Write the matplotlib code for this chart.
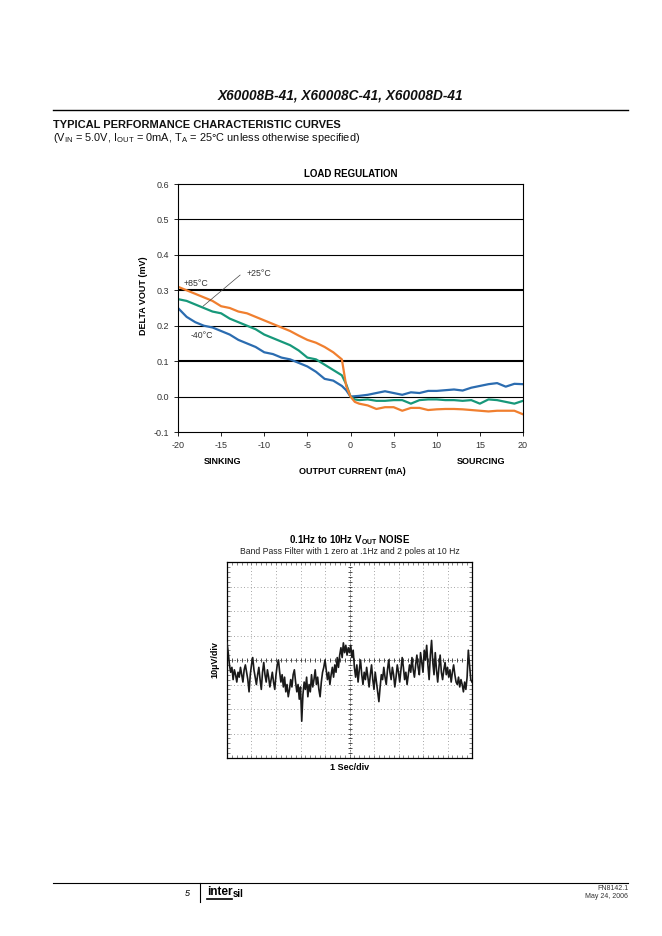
import numpy as np
import matplotlib
matplotlib.use("Agg")
import matplotlib.pyplot as plt
from matplotlib.lines import Line2D

plt.rcParams['font.family'] = ['Liberation Sans', 'DejaVu Sans']
plt.rcParams['mathtext.fontset'] = 'custom'
plt.rcParams['mathtext.rm'] = 'Liberation Sans'
plt.rcParams['mathtext.bf'] = 'Liberation Sans:bold'
plt.rcParams['axes.unicode_minus'] = False

W, H = 662, 936

# load regulation data (mA, mV)
current = [-20, -19, -18, -17, -16, -15, -14, -13, -12, -11, -10, -9, -8, -7, -6, -5, -4, -3, -2, -1,
           -0.5, 0, 0.5, 1, 2, 3, 4, 5, 6, 7, 8, 9, 10, 11, 12, 13, 14, 15, 16, 17, 18, 19, 20]
dv_85c = [0.31, 0.30, 0.29, 0.28, 0.27, 0.255, 0.25, 0.24, 0.235, 0.225, 0.215, 0.205, 0.195, 0.185,
          0.172, 0.16, 0.152, 0.14, 0.125, 0.105, 0.03, 0.0, -0.015, -0.02, -0.025, -0.035, -0.03,
          -0.03, -0.04, -0.032, -0.032, -0.038, -0.036, -0.035, -0.035, -0.036, -0.038, -0.04,
          -0.042, -0.04, -0.04, -0.04, -0.05]
dv_25c = [0.275, 0.27, 0.26, 0.25, 0.24, 0.235, 0.22, 0.21, 0.2, 0.19, 0.175, 0.165, 0.155, 0.145,
          0.13, 0.11, 0.105, 0.09, 0.075, 0.06, 0.035, 0.0, -0.008, -0.01, -0.008, -0.012, -0.012,
          -0.01, -0.01, -0.02, -0.01, -0.008, -0.008, -0.01, -0.01, -0.012, -0.01, -0.02, -0.008,
          -0.01, -0.015, -0.02, -0.012]
dv_m40c = [0.25, 0.225, 0.21, 0.2, 0.195, 0.185, 0.175, 0.16, 0.15, 0.14, 0.125, 0.12, 0.11, 0.105,
           0.095, 0.085, 0.07, 0.05, 0.045, 0.03, 0.018, 0.0, 0.001, 0.002, 0.005, 0.01, 0.015, 0.01,
           0.005, 0.012, 0.01, 0.016, 0.016, 0.018, 0.02, 0.017, 0.025, 0.03, 0.035, 0.038, 0.028,
           0.036, 0.035]

# noise trace, in divisions, 0.05 div per sample
noise = [0.7, 0.3, -0.2, -0.5, -0.3, -0.8, -0.4, -0.6, -0.9, -0.5, -0.7, -0.3, -0.6, -0.9, -0.4, -0.2, -0.5, -0.8, -1.3, -0.6,
         -0.2, 0.1, -0.4, -0.7, -1.0, -0.6, -0.3, -0.8, -1.2, -0.5, -0.1, -0.6, -0.9, -0.4, -0.7, -1.1, -0.8, -0.5, -0.9, -1.2,
         -0.6, -0.2, 0.0, -0.5, -0.9, -0.6, -1.1, -0.7, -1.3, -1.0, -1.5, -1.2, -0.8, -1.1, -0.6, -0.4, -0.9, -1.3, -1.0, -1.6,
         -1.1, -2.5, -1.4, -0.9, -1.2, -0.7, -1.5, -1.0, -1.3, -0.6, -1.1, -0.8, -0.4, -1.0, -0.7, -1.2, -1.5, -0.9, -0.5, -0.3,
         0.0, -0.4, -0.8, -0.5, -1.0, -0.6, -0.3, -0.7, -0.2, -0.5, 0.1, -0.3, 0.2, 0.5, 0.1, 0.7, 0.3, 0.6, 0.2, 0.5,
         0.3, 0.6, 0.1, 0.4, -0.3, -0.7, -0.2, -0.9, -0.4, 0.0, -0.6, -1.0, -0.5, -0.8, -0.3, -0.7, -1.1, -0.6, -0.2, -0.8,
         -1.2, -0.5, -0.9, -1.3, -1.7, -1.1, -0.6, -0.8, -0.3, -0.7, -1.0, -0.4, 0.0, -0.5, -0.8, -0.3, -0.6, -1.1, -0.7, -0.2,
         -0.5, -0.9, -0.4, 0.1, -0.3, -0.8, -0.5, -1.0, -0.6, -0.2, -0.5, 0.1, -0.4, -0.7, -0.2, 0.2, -0.3, -0.6, 0.3, -0.1,
         -0.5, 0.4, 0.0, 0.6, -0.2, -0.8, 0.2, 0.8, -0.1, -0.6, 0.3, -0.4, -0.9, -0.3, 0.2, -0.5, -0.8, -0.4, -0.1, -0.6,
         -0.3, -0.7, -0.4, -0.9, -0.5, -0.2, -0.6, -0.9, -1.0, -0.7, -1.1, -0.8, -1.0, -1.3, -0.9, -1.2, -0.7, 0.4, -0.2, -0.8,
         -0.9]


def px(x, y):
    return x / W, 1 - y / H


def box(x0, y0, x1, y1):
    return [x0 / W, 1 - y1 / H, (x1 - x0) / W, (y1 - y0) / H]


fig = plt.figure(figsize=(W / 100, H / 100), dpi=100)
fig.patch.set_facecolor('white')

# page header
fig.text(*px(340, 95), "X60008B-41, X60008C-41, X60008D-41", ha='center', va='center',
         fontsize=9.8, fontweight='bold', fontstyle='italic', color='#111')
fig.add_artist(Line2D([53 / W, 628 / W], [1 - 110 / H] * 2, color='black', lw=1.0))
fig.text(*px(53, 125), "TYPICAL PERFORMANCE CHARACTERISTIC CURVES", ha='left', va='center',
         fontsize=8.0, fontweight='bold', color='#111')
fig.text(*px(53, 138), r"(V$_{\mathrm{IN}}$ = 5.0V, I$_{\mathrm{OUT}}$ = 0mA, T$_{\mathrm{A}}$ = 25°C unless otherwise specified)",
         ha='left', va='center', fontsize=7.9, color='#111')

# --- load regulation ---
ax = fig.add_axes(box(178, 184, 523, 432))
ax.plot(current, dv_m40c, color='#2b6cb0', lw=1.6)
ax.plot(current, dv_25c, color='#17987a', lw=1.6)
ax.plot(current, dv_85c, color='#f07f2f', lw=1.6)
for g in [0.0, 0.1, 0.2, 0.3, 0.4, 0.5]:
    ax.axhline(g, color='black', lw=1.5 if g in (0.1, 0.3) else 0.8, zorder=0)
ax.set_xlim(-20, 20)
ax.set_ylim(-0.1, 0.6)
ax.set_xticks(range(-20, 21, 5))
ax.set_yticks(np.arange(-0.1, 0.61, 0.1))
ax.set_yticklabels([f"{v:.1f}" for v in np.arange(-0.1, 0.61, 0.1)])
ax.tick_params(labelsize=6.5, labelcolor='#333', length=3, width=0.6, direction='out')
for s in ax.spines.values():
    s.set_linewidth(0.8)
ax.set_title("LOAD REGULATION", fontsize=7, fontweight='bold', pad=5)
ax.text(-19.4, 0.32, "+85°C", fontsize=6.3, color='#333', va='center')
ax.text(-12.1, 0.347, "+25°C", fontsize=6.3, color='#333', va='center')
ax.text(-18.5, 0.173, "-40°C", fontsize=6.3, color='#333', va='center')
ax.plot([-12.8, -17.1], [0.343, 0.255], color='#444', lw=0.5)

fig.text(*px(143, 296), "DELTA VOUT (mV)", rotation=90, ha='center', va='center',
         fontsize=6.5, fontweight='bold')
fig.text(*px(223, 461), "SINKING", ha='center', va='center', fontsize=6.5, fontweight='bold')
fig.text(*px(481, 461), "SOURCING", ha='center', va='center', fontsize=6.5, fontweight='bold')
fig.text(*px(352, 472), "OUTPUT CURRENT (mA)", ha='center', va='center', fontsize=6.5, fontweight='bold')

# --- noise ---
fig.text(*px(350, 540), r"0.1Hz to 10Hz V$_{\mathbf{OUT}}$ NOISE", ha='center', va='center',
         fontsize=7, fontweight='bold')
fig.text(*px(350, 551), "Band Pass Filter with 1 zero at .1Hz and 2 poles at 10 Hz", ha='center',
         va='center', fontsize=6.2, color='#222')

nx = fig.add_axes(box(227, 562, 472, 758))
t = np.arange(len(noise)) * 0.05
nx.set_xlim(0, 10)
nx.set_ylim(-4, 4)
for gx in range(1, 10):
    nx.axvline(gx, color='#888', lw=0.6, ls=(0, (1, 3)), zorder=0)
for gy in range(-3, 4):
    nx.axhline(gy, color='#888', lw=0.6, ls=(0, (1, 3)), zorder=0)
nx.axvline(5, color='#444', lw=0.6, ls=(0, (1, 2)), zorder=0)
nx.axhline(0, color='#444', lw=0.6, ls=(0, (1, 2)), zorder=0)
minor_x = np.arange(0, 10.01, 0.2)
minor_y = np.arange(-4, 4.01, 0.2)
nx.plot(np.full_like(minor_y, 5), minor_y, ls='none', marker='_', ms=3, mew=0.6, color='#333')
nx.plot(minor_x, np.zeros_like(minor_x), ls='none', marker='|', ms=3, mew=0.6, color='#333')
nx.set_xticks(minor_x, minor=True)
nx.set_yticks(minor_y, minor=True)
nx.set_xticks([])
nx.set_yticks([])
nx.tick_params(which='minor', direction='in', length=2, width=0.5, top=True, right=True,
               labelbottom=False, labelleft=False, color='#555')
nx.plot(t, noise, color='#1a1a1a', lw=1.2, zorder=3)
for s in nx.spines.values():
    s.set_linewidth(0.9)
fig.text(*px(215, 660), "10µV/div", rotation=90, ha='center', va='center', fontsize=6.5,
         fontweight='bold')
fig.text(*px(350, 768), "1 Sec/div", ha='center', va='center', fontsize=6.5, fontweight='bold')

# page footer
fig.add_artist(Line2D([53 / W, 628 / W], [1 - 883 / H] * 2, color='black', lw=0.8))
fig.add_artist(Line2D([200 / W, 200 / W], [1 - 883 / H, 1 - 902 / H], color='black', lw=0.8))
fig.text(*px(190, 893), "5", ha='right', va='center', fontsize=6.5, fontstyle='italic')
fig.text(*px(207, 892), "inter", ha='left', va='center', fontsize=8.5, fontweight='bold')
fig.text(*px(233, 894), "sil", ha='left', va='center', fontsize=7, fontweight='bold')
fig.add_artist(Line2D([207 / W, 232 / W], [1 - 899 / H] * 2, color='black', lw=1.2))
fig.text(*px(628, 888), "FN8142.1", ha='right', va='center', fontsize=5, color='#333')
fig.text(*px(628, 897), "May 24, 2006", ha='right', va='center', fontsize=5, color='#333')

fig.savefig("out.png", dpi=100, facecolor='white')
